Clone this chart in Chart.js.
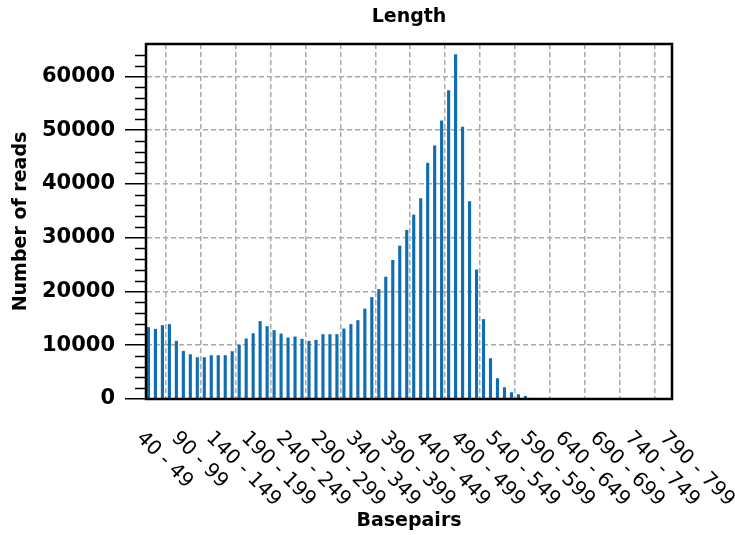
<!DOCTYPE html>
<html>
<head>
<meta charset="utf-8">
<script src="https://cdn.jsdelivr.net/npm/chart.js@4.4.1/dist/chart.umd.min.js"></script>
<style>
    html, body { margin: 0; padding: 0; background: #fff; }
    #wrap { width: 735px; height: 535px; }
</style>
</head>
<body>
<div id="wrap"><canvas id="lengthChart" width="735" height="535"></canvas></div>
<script>
// Read length histogram, bins of 10 bp
const categories = [
    '40 - 49', '50 - 59', '60 - 69', '70 - 79', '80 - 89',
    '90 - 99', '100 - 109', '110 - 119', '120 - 129', '130 - 139',
    '140 - 149', '150 - 159', '160 - 169', '170 - 179', '180 - 189',
    '190 - 199', '200 - 209', '210 - 219', '220 - 229', '230 - 239',
    '240 - 249', '250 - 259', '260 - 269', '270 - 279', '280 - 289',
    '290 - 299', '300 - 309', '310 - 319', '320 - 329', '330 - 339',
    '340 - 349', '350 - 359', '360 - 369', '370 - 379', '380 - 389',
    '390 - 399', '400 - 409', '410 - 419', '420 - 429', '430 - 439',
    '440 - 449', '450 - 459', '460 - 469', '470 - 479', '480 - 489',
    '490 - 499', '500 - 509', '510 - 519', '520 - 529', '530 - 539',
    '540 - 549', '550 - 559', '560 - 569', '570 - 579', '580 - 589',
    '590 - 599', '600 - 609', '610 - 619', '620 - 629', '630 - 639',
    '640 - 649', '650 - 659', '660 - 669', '670 - 679', '680 - 689',
    '690 - 699', '700 - 709', '710 - 719', '720 - 729', '730 - 739',
    '740 - 749', '750 - 759', '760 - 769', '770 - 779', '780 - 789',
    '790 - 799'
];

const reads = [
    13360, 13040, 13730, 13920, 10800,
    8940, 8320, 7760, 7760, 8140,
    8140, 8140, 8880, 10060, 11240,
    12230, 14470, 13540, 12800, 12170,
    11420, 11610, 11180, 10800, 10990,
    12050, 12050, 12050, 13100, 13920,
    14660, 16800, 18940, 20430, 22730,
    25840, 28510, 31430, 34280, 37320,
    43910, 47140, 51800, 57390, 64100,
    50620, 36760, 24090, 14850, 7580,
    3860, 2180, 1250, 870, 560,
    200, 100, 0, 0, 0,
    0, 0, 0, 0, 0,
    0, 0, 0, 0, 0,
    0, 0, 0, 0, 0,
    0
];

const tickLabels = [
    '40 - 49', '90 - 99', '140 - 149', '190 - 199', '240 - 249',
    '290 - 299', '340 - 349', '390 - 399', '440 - 449', '490 - 499',
    '540 - 549', '590 - 599', '640 - 649', '690 - 699', '740 - 749',
    '790 - 799'
];

const yTicks = [0, 10000, 20000, 30000, 40000, 50000, 60000];
const yMax = 66000;
const yMinorStep = 2000;

Chart.defaults.font.family = "'DejaVu Sans', sans-serif";
Chart.defaults.color = '#000';

// frame, minor ticks, rotated x labels and title
const decorations = {
    id: 'decorations',
    afterDraw(chart) {
        const ctx = chart.ctx;
        const area = chart.chartArea;
        const xScale = chart.scales.x;
        const yScale = chart.scales.y;

        ctx.save();
        ctx.strokeStyle = '#000';
        ctx.lineWidth = 1.5;
        for (let v = yMinorStep; v < yMax; v += yMinorStep) {
            if (v % 10000 === 0) continue;
            const y = Math.round(yScale.getPixelForValue(v)) + 0.5;
            ctx.beginPath();
            ctx.moveTo(area.left - 11, y);
            ctx.lineTo(area.left, y);
            ctx.stroke();
        }

        ctx.lineWidth = 2.5;
        ctx.strokeRect(area.left, area.top, area.right - area.left, area.bottom - area.top);

        ctx.fillStyle = '#000';
        ctx.font = "20px 'DejaVu Sans'";
        ctx.textAlign = 'left';
        ctx.textBaseline = 'middle';
        tickLabels.forEach(label => {
            const x = xScale.getPixelForValue(categories.indexOf(label));
            ctx.save();
            ctx.translate(x - 9, 435);
            ctx.rotate(Math.PI / 4);
            ctx.fillText(label, 0, 0);
            ctx.restore();
        });

        ctx.font = "bold 19px 'DejaVu Sans'";
        ctx.textAlign = 'center';
        ctx.fillText('Length', (area.left + area.right) / 2, 17);
        ctx.restore();
    }
};

const ctx = document.getElementById('lengthChart').getContext('2d');
const lengthChart = new Chart(ctx, {
    type: 'bar',
    data: {
        datasets: [{
            label: 'Number of reads',
            data: reads.map((v, i) => ({ x: i, y: v })),
            backgroundColor: '#0f6db3',
            barPercentage: 0.45,
            categoryPercentage: 1.0
        }]
    },
    options: {
        responsive: false,
        animation: false,
        devicePixelRatio: 1,
        layout: {
            padding: { left: 0, top: 44, right: 63, bottom: 0 }
        },
        plugins: {
            legend: { display: false },
            tooltip: { enabled: false },
            title: { display: false }
        },
        scales: {
            x: {
                type: 'linear',
                min: -0.35,
                max: 75,
                offset: false,
                afterBuildTicks: scale => {
                    scale.ticks = tickLabels.map(l => ({ value: categories.indexOf(l) }));
                },
                grid: {
                    drawTicks: false,
                    lineWidth: 1.5,
                    color: '#a9a9a9'
                },
                border: { display: true, color: '#000', width: 2, dash: [5, 3] },
                ticks: { display: false },
                title: {
                    display: true,
                    text: 'Basepairs',
                    font: { size: 19, weight: 'bold' },
                    padding: { top: 0, bottom: 3 }
                },
                afterFit: scale => { scale.height = 136; }
            },
            y: {
                min: 0,
                max: yMax,
                afterBuildTicks: scale => {
                    scale.ticks = yTicks.map(v => ({ value: v }));
                },
                grid: {
                    lineWidth: 1.5,
                    color: c => (c.tick && c.tick.value === 0 ? '#000' : '#a9a9a9'),
                    tickLength: 21,
                    tickColor: '#000',
                    tickWidth: 1.5,
                    tickBorderDash: []
                },
                border: { display: true, color: '#000', width: 2, dash: [5, 3] },
                ticks: {
                    padding: 10,
                    font: { size: 21, weight: 'bold' },
                    callback: v => String(v)
                },
                title: {
                    display: true,
                    text: 'Number of reads',
                    font: { size: 19, weight: 'bold' },
                    padding: { top: 10, bottom: 0 }
                },
                afterFit: scale => { scale.width = 146; }
            }
        }
    },
    plugins: [decorations]
});
</script>
</body>
</html>
